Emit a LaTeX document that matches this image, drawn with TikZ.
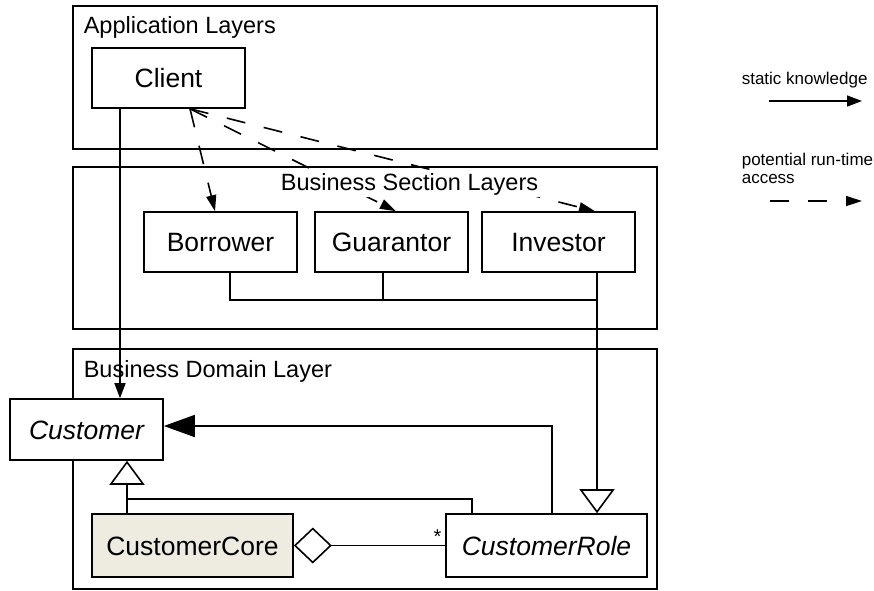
\documentclass[tikz,border=0pt]{standalone}
\usepackage{fontspec}
\setmainfont{Liberation Sans}
\usetikzlibrary{arrows.meta}
\definecolor{corefill}{RGB}{238,236,225}
\begin{document}
\begin{tikzpicture}[x=1pt,y=-1pt,line width=1.6pt,
  frame/.style={draw,anchor=north west,inner sep=0pt,minimum width=584pt},
  title/.style={inner sep=0pt,font=\fontsize{23.5}{28}\selectfont},
  cls/.style={draw,fill=white,inner sep=0pt,minimum width=153pt,minimum height=60pt,
    font=\fontsize{26.5}{30}\selectfont,text height=19pt,text depth=0pt},
  italiccls/.style={cls,font=\fontsize{26.5}{30}\selectfont\itshape},
  legendtext/.style={inner sep=0pt,anchor=base west,font=\fontsize{17}{18}\selectfont},
  solidarrow/.style={-{Triangle[length=15pt,width=11pt]}},
  dashline/.style={dash pattern=on 19pt off 19pt,-{Triangle[length=16pt,width=10pt]}},
  genarrow/.style={-{Triangle[open,length=24pt,width=35pt]}},
  bigarrow/.style={-{Triangle[length=31pt,width=22pt]}},
  aggarrow/.style={{Diamond[open,length=38pt,width=36pt]}-}
]
\useasboundingbox (0,0) rectangle (874,590);

% frames
\node[frame,minimum height=143pt] (app) at (72,5) {};
\node[frame,minimum height=162pt] (section) at (72,166) {};
\node[frame,minimum height=240pt] (domain) at (72,348) {};

\node[title,anchor=base west] (apptitle) at (83,33) {Application Layers};
\node[title,anchor=base west] (domaintitle) at (83,377) {Business Domain Layer};

% classes
\node[cls] (client) at (168.5,78) {Client};
\node[cls] (borrower) at (220.5,242) {Borrower};
\node[cls] (guarantor) at (391.5,242) {Guarantor};
\node[cls] (investor) at (558.5,242) {Investor};
\node[italiccls,minimum height=61pt] (customer) at (86.5,429.5) {Customer};
\node[cls,minimum width=201pt,minimum height=63pt,fill=corefill] (core) at (192.5,545.5) {CustomerCore};
\node[italiccls,minimum width=201pt,minimum height=63pt] (role) at (546.5,545.5) {CustomerRole};

% helper coordinates
\coordinate (cx) at (120,0);
\coordinate (d0) at (190,0);
\coordinate (d1) at (215,0);
\coordinate (d2) at (396,0);
\coordinate (d3) at (595,0);
\coordinate (bx) at (230,0);
\coordinate (gx2) at (383,0);
\coordinate (ix) at (597,0);
\coordinate (hy) at (0,300);
\coordinate (rx) at (552,0);
\coordinate (ry) at (0,426);
\coordinate (gx) at (127,0);
\coordinate (gy) at (0,499);
\coordinate (rx2) at (472,0);

% client -> customer
\draw[solidarrow] (client.south -| cx) -- (customer.north -| cx);

% dashed run-time access
\draw[dashline] (client.south -| d0) -- (borrower.north -| d1);
\draw[dashline] (client.south -| d0) -- (guarantor.north -| d2);
\draw[dashline] (client.south -| d0) -- (investor.north -| d3);

% section title drawn over the dashed lines
\node[title,anchor=base,fill=white,inner sep=2pt] (sectiontitle) at (409.5,190) {Business Section Layers};

% section classes generalize CustomerRole
\draw (borrower.south -| bx) |- (ix |- hy);
\draw (guarantor.south -| gx2) -- (gx2 |- hy);
\draw[genarrow] (investor.south -| ix) -- (role.north -| ix);

% role -> customer
\draw[bigarrow] (role.north -| rx) |- (customer.east |- ry);

% generalization to Customer
\draw[genarrow] (core.north -| gx) -- (customer.south -| gx);
\draw (role.north -| rx2) |- (gx |- gy);

% aggregation
\draw[aggarrow] (core.east) -- (role.west);
\node[inner sep=0pt,anchor=base,font=\fontsize{20}{22}\selectfont] (mult) at (437.5,543) {*};

% legend
\node[legendtext] (lk) at (741,84) {static knowledge};
\coordinate (l1a) at (769,101);
\coordinate (l1b) at (862,101);
\draw[solidarrow,line width=1.4pt] (l1a) -- (l1b);
\node[legendtext] (lr1) at (741,165) {potential run-time};
\node[legendtext] (lr2) at (741,183) {access};
\coordinate (l2a) at (770,201);
\coordinate (l2b) at (862,201);
\draw[dashline,line width=1.4pt] (l2a) -- (l2b);
\end{tikzpicture}
\end{document}
